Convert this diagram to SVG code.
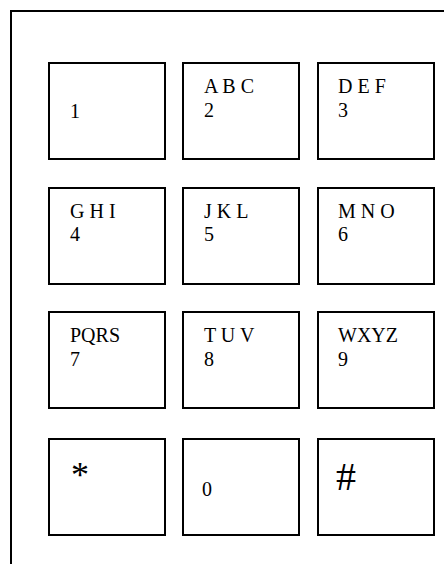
<svg xmlns="http://www.w3.org/2000/svg" width="444" height="564" viewBox="0 0 444 564">
<style>
.key{fill:#fff;stroke:#000;stroke-width:2}
.frame{fill:none;stroke:#000;stroke-width:2}
text{font-family:"Liberation Serif","Times New Roman",serif;font-size:20px;fill:#000}
.star{font-size:36px}
.hash{font-size:40px}
</style>
<rect width="444" height="564" fill="#fff"/>
<path class="frame" d="M11,565 V11 H445"/>
<g id="key1"><rect class="key" x="49" y="63" width="116" height="96"/><text x="70" y="118">1</text></g>
<g id="key2"><rect class="key" x="183" y="63" width="116" height="96"/><text x="204" y="93">A B C</text><text x="204" y="117">2</text></g>
<g id="key3"><rect class="key" x="318" y="63" width="116" height="96"/><text x="338" y="93">D E F</text><text x="338" y="117">3</text></g>
<g id="key4"><rect class="key" x="49" y="188" width="116" height="96"/><text x="70" y="218">G H I</text><text x="70" y="241">4</text></g>
<g id="key5"><rect class="key" x="183" y="188" width="116" height="96"/><text x="204" y="218">J K L</text><text x="204" y="241">5</text></g>
<g id="key6"><rect class="key" x="318" y="188" width="116" height="96"/><text x="338" y="218">M N O</text><text x="338" y="241">6</text></g>
<g id="key7"><rect class="key" x="49" y="312" width="116" height="96"/><text x="70" y="342">PQRS</text><text x="70" y="366">7</text></g>
<g id="key8"><rect class="key" x="183" y="312" width="116" height="96"/><text x="204" y="342">T U V</text><text x="204" y="366">8</text></g>
<g id="key9"><rect class="key" x="318" y="312" width="116" height="96"/><text x="338" y="342">WXYZ</text><text x="338" y="366">9</text></g>
<g id="keyStar"><rect class="key" x="49" y="439" width="116" height="96"/><text class="star" x="71" y="487">*</text></g>
<g id="key0"><rect class="key" x="183" y="439" width="116" height="96"/><text x="202" y="496">0</text></g>
<g id="keyHash"><rect class="key" x="318" y="439" width="116" height="96"/><text class="hash" x="336" y="490">#</text></g>
<g id="connectors"/>
</svg>
